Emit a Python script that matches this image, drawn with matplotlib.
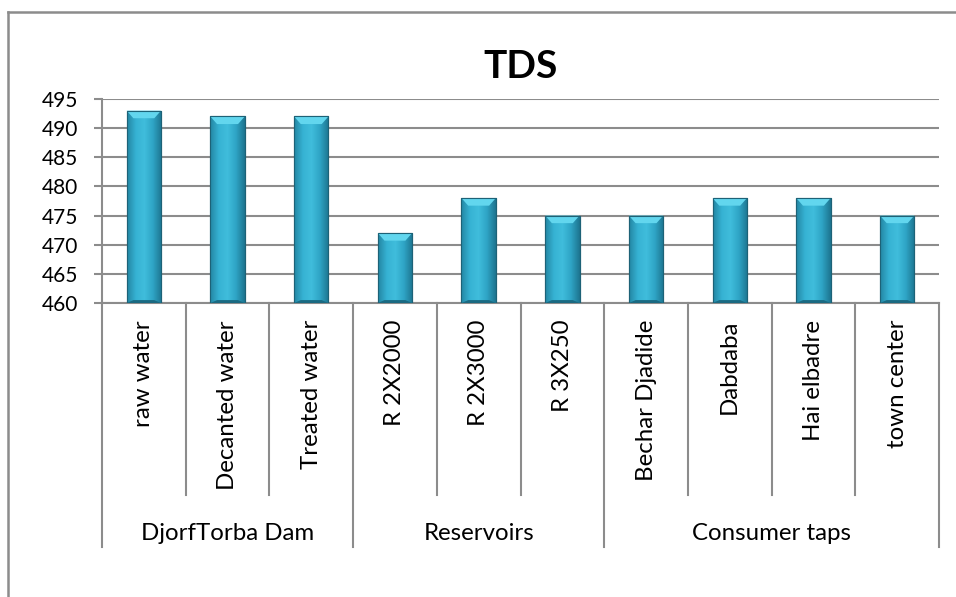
import numpy as np
import matplotlib.pyplot as plt
from matplotlib.patches import Polygon
from matplotlib.colors import LinearSegmentedColormap

plt.rcParams['font.family'] = ['Lato', 'DejaVu Sans']

# TDS (mg/L) at each sampling point
sites = ["raw water", "Decanted water", "Treated water",
         "R 2X2000", "R 2X3000", "R 3X250",
         "Bechar Djadide", "Dabdaba", "Hai elbadre", "town center"]
tds = [493, 492, 492, 472, 478, 475, 475, 478, 478, 475]
groups = ["DjorfTorba Dam", "Reservoirs", "Consumer taps"]
group_sizes = [3, 3, 4]

ymin, ymax = 460, 495
line_col = "#8c8c8c"

fig = plt.figure(figsize=(9.56, 5.97), dpi=100)
W, H = 956, 597
ax = fig.add_axes([102 / W, 1 - 303 / H, (939 - 102) / W, (303 - 99) / H])

x = np.arange(len(sites))
bw = 0.41
bars = ax.bar(x, [v - ymin for v in tds], bottom=ymin, width=bw,
              color="#30a8c9", edgecolor="#1d6277", linewidth=0.8, zorder=3)

# cylinder-like shading across each bar
shade = LinearSegmentedColormap.from_list(
    "shade", ["#2386a3", "#36b2d3", "#40bddc", "#2ea4c5", "#1d7590"])
grad = np.linspace(0, 1, 64).reshape(1, -1)
bev_x = 0.08
bev_y = 1.3
for rect, v in zip(bars, tds):
    x0 = rect.get_x()
    w = rect.get_width()
    im = ax.imshow(grad, cmap=shade, aspect="auto", zorder=3.5,
                   extent=(x0, x0 + w, ymin, v))
    im.set_clip_path(rect)
    top = Polygon([(x0, v), (x0 + w, v), (x0 + w - bev_x, v - bev_y),
                   (x0 + bev_x, v - bev_y)], closed=True,
                  facecolor="#62d6ee", edgecolor="none", zorder=4)
    ax.add_patch(top)
    bot = Polygon([(x0, ymin), (x0 + w, ymin), (x0 + w - bev_x, ymin + 0.5),
                   (x0 + bev_x, ymin + 0.5)], closed=True,
                  facecolor="#1a6a82", edgecolor="none", zorder=4)
    ax.add_patch(bot)
    ax.add_patch(Polygon([(x0, ymin), (x0 + w, ymin), (x0 + w, v), (x0, v)],
                         closed=True, fill=False, edgecolor="#1d6277",
                         linewidth=0.8, zorder=4.5))

ax.set_xlim(-0.5, len(sites) - 0.5)
ax.set_ylim(ymin, ymax)
ax.set_yticks(np.arange(ymin, ymax + 1, 5))
ax.yaxis.grid(True, color=line_col, linewidth=1.5, zorder=0)
ax.set_axisbelow(True)
ax.tick_params(axis="y", length=6, width=1.5, color=line_col, labelsize=15,
               pad=11)
ax.set_xticks([])
for s in ["top", "right"]:
    ax.spines[s].set_visible(False)
for s in ["left", "bottom"]:
    ax.spines[s].set_color(line_col)
    ax.spines[s].set_linewidth(1.5)

# two-level category axis below the plot
trans = ax.get_xaxis_transform()
inner_y = (303 - 495) / (303 - 99)
outer_y = (303 - 547) / (303 - 99)
label_y = (303 - 320) / (303 - 99)
group_label_y = (303 - 533) / (303 - 99)

for i, name in enumerate(sites):
    ax.text(i, label_y, name, rotation=90, ha="center", va="top",
            fontsize=17.3, transform=trans)

edges = np.cumsum([0] + group_sizes)
for i in range(1, len(sites)):
    if i not in edges:
        ax.plot([i - 0.5, i - 0.5], [0, inner_y], color=line_col, lw=1.5,
                transform=trans, clip_on=False)
for e in edges:
    ax.plot([e - 0.5, e - 0.5], [0, outer_y], color=line_col, lw=1.5,
            transform=trans, clip_on=False)
for g, a, b in zip(groups, edges[:-1], edges[1:]):
    ax.text((a + b - 1) / 2, group_label_y, g, ha="center", va="center",
            fontsize=17.3, transform=trans)

fig.text(521 / W, 1 - 66 / H, "TDS", ha="center", va="center",
         fontsize=28, fontweight="bold")

# chart frame (left and top edges)
fig.add_artist(plt.Line2D([8 / W, 8 / W], [0, 1 - 12 / H], color=line_col,
                          lw=1.8, transform=fig.transFigure))
fig.add_artist(plt.Line2D([8 / W, 1], [1 - 12 / H, 1 - 12 / H],
                          color=line_col, lw=1.8, transform=fig.transFigure))

fig.savefig("out.png", dpi=100)
